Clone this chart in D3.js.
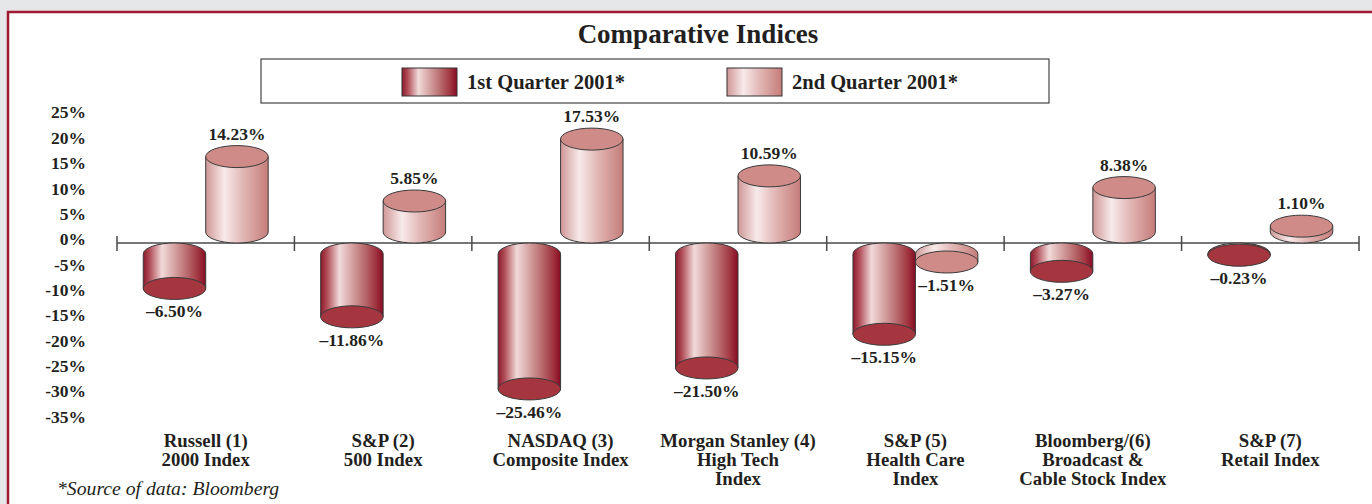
<!DOCTYPE html>
<html>
<head>
<meta charset="utf-8">
<script src="https://cdn.jsdelivr.net/npm/d3@7"></script>
<style>
  body { margin: 0; background: #e6e7e9; }
  svg { display: block; }
  text { font-family: "Liberation Serif", "Times New Roman", serif; font-weight: bold; fill: #231f20; }
</style>
</head>
<body>
<div id="chart"></div>
<script>
////// DATA ////////
var categories = ["Russell (1)", "S&P (2)", "NASDAQ (3)", "Morgan Stanley (4)", "S&P (5)", "Bloomberg/(6)", "S&P (7)"];
var categoryLines = [
  ["Russell (1)", "2000 Index"],
  ["S&P (2)", "500 Index"],
  ["NASDAQ (3)", "Composite Index"],
  ["Morgan Stanley (4)", "High Tech", "Index"],
  ["S&P (5)", "Health Care", "Index"],
  ["Bloomberg/(6)", "Broadcast &", "Cable Stock Index"],
  ["S&P (7)", "Retail Index"]
];
var series = ["1st Quarter 2001*", "2nd Quarter 2001*"];
var q1 = [-6.50, -11.86, -25.46, -21.50, -15.15, -3.27, -0.23];
var q2 = [14.23, 5.85, 17.53, 10.59, -1.51, 8.38, 1.10];
var tickValues = [25, 20, 15, 10, 5, 0, -5, -10, -15, -20, -25, -30, -35];
////////////////////

var w = 1372, h = 504;
var axisY = 243;
var ry = 11;

var svg = d3.select("#chart").append("svg")
  .attr("width", w)
  .attr("height", h);

// gradients for the cylinders
var defs = svg.append("defs");
var grads = [
  { id: "g1", stops: [[0, "#8c1a2d"], [0.1, "#b04b56"], [0.3, "#f1dad9"], [0.5, "#d5a2a2"], [0.72, "#b56568"], [0.88, "#a0343f"], [1, "#870b24"]] },
  { id: "g2", stops: [[0, "#cf9796"], [0.3, "#f8eaea"], [0.6, "#e1b6b4"], [1, "#c57c79"]] }
];
var capColours = ["#a5363f", "#cf8b87"];

grads.forEach(function (g) {
  var lg = defs.append("linearGradient").attr("id", g.id)
    .attr("x1", 0).attr("x2", 1).attr("y1", 0).attr("y2", 0);
  g.stops.forEach(function (s) {
    lg.append("stop").attr("offset", s[0]).attr("stop-color", s[1]);
  });
});

// frame
svg.append("rect")
  .attr("x", 8).attr("y", 12)
  .attr("width", w + 20).attr("height", h + 20)
  .attr("fill", "white")
  .attr("stroke", "#9e1a33")
  .attr("stroke-width", 2.5);

// title
svg.append("text")
  .attr("x", 698).attr("y", 43)
  .attr("text-anchor", "middle")
  .style("font-size", "27px")
  .text("Comparative Indices");

// legend
svg.append("rect")
  .attr("x", 261).attr("y", 59)
  .attr("width", 788).attr("height", 44)
  .attr("fill", "white")
  .attr("stroke", "#444")
  .attr("stroke-width", 1.2);

var legendX = [402, 727];
series.forEach(function (s, i) {
  svg.append("rect")
    .attr("x", legendX[i]).attr("y", 68)
    .attr("width", 55).attr("height", 28)
    .attr("fill", "url(#g" + (i + 1) + ")")
    .attr("stroke", "#333")
    .attr("stroke-width", 1);
  svg.append("text")
    .attr("x", legendX[i] + 65).attr("y", 89)
    .style("font-size", "20.5px")
    .text(s);
});

// scales
var x0 = d3.scaleBand()
  .domain(categories)
  .range([117, 1359])
  .padding(0);

var x1 = d3.scaleBand()
  .domain([0, 1])
  .range([0, x0.bandwidth()])
  .paddingInner(0)
  .paddingOuter(0.42);

var yTick = d3.scaleLinear()
  .domain([-35, 25])
  .range([416.7, 112.3]);

// bar length (the drawing is a bit stretched against the labels)
var len = d3.scaleLinear()
  .domain([0, 35])
  .range([0, 185.5]);

var rx = x1.bandwidth() / 2;

// y labels
svg.selectAll(".ytick")
  .data(tickValues)
  .enter()
  .append("text")
  .attr("class", "ytick")
  .attr("x", 86)
  .attr("y", function (d) { return yTick(d); })
  .attr("dy", "0.35em")
  .attr("text-anchor", "end")
  .style("font-size", "17.5px")
  .text(function (d) { return d + "%"; });

// zero line with ticks
svg.append("line")
  .attr("x1", x0.range()[0]).attr("x2", x0.range()[1])
  .attr("y1", axisY).attr("y2", axisY)
  .attr("stroke", "#4a4a4a")
  .attr("stroke-width", 1.5);

var tickXs = categories.map(function (c) { return x0(c); }).concat([x0.range()[1]]);
svg.selectAll(".xtick")
  .data(tickXs)
  .enter()
  .append("line")
  .attr("class", "xtick")
  .attr("x1", function (d) { return d; })
  .attr("x2", function (d) { return d; })
  .attr("y1", axisY - 7).attr("y2", axisY + 8)
  .attr("stroke", "#4a4a4a")
  .attr("stroke-width", 1.5);

// cylinders
var bars = [];
categories.forEach(function (c, i) {
  bars.push({ cat: c, s: 0, v: q1[i] });
  bars.push({ cat: c, s: 1, v: q2[i] });
});

function geom(d) {
  var cx = x0(d.cat) + x1(d.s) + rx;
  var hh = len(Math.abs(d.v));
  var top, bot;
  if (d.v >= 0) {
    bot = axisY - ry;
    top = bot - hh;
  } else {
    top = axisY + ry;
    bot = top + hh;
  }
  return { cx: cx, top: top, bot: bot };
}

function bodyPath(d) {
  var g = geom(d);
  var l = g.cx - rx, r = g.cx + rx;
  if (d.v >= 0) {
    return "M" + l + "," + g.top + "L" + l + "," + g.bot +
      "A" + rx + "," + ry + " 0 0 0 " + r + "," + g.bot +
      "L" + r + "," + g.top + "Z";
  }
  return "M" + l + "," + g.bot + "L" + l + "," + g.top +
    "A" + rx + "," + ry + " 0 0 1 " + r + "," + g.top +
    "L" + r + "," + g.bot + "Z";
}

var cyl = svg.selectAll(".cyl")
  .data(bars)
  .enter()
  .append("g")
  .attr("class", "cyl");

cyl.append("path")
  .attr("d", bodyPath)
  .attr("fill", function (d) { return "url(#g" + (d.s + 1) + ")"; })
  .attr("stroke", "#3a3a3a")
  .attr("stroke-width", 1);

cyl.append("ellipse")
  .attr("cx", function (d) { return geom(d).cx; })
  .attr("cy", function (d) { return d.v >= 0 ? geom(d).top : geom(d).bot; })
  .attr("rx", rx)
  .attr("ry", ry)
  .attr("fill", function (d) { return capColours[d.s]; })
  .attr("stroke", "#3a3a3a")
  .attr("stroke-width", 1);

// value labels
cyl.append("text")
  .attr("x", function (d) { return geom(d).cx; })
  .attr("y", function (d) {
    var g = geom(d);
    return d.v >= 0 ? g.top - ry - 6 : g.bot + ry + 18;
  })
  .attr("text-anchor", "middle")
  .style("font-size", "17.5px")
  .text(function (d) {
    return (d.v < 0 ? "\u2013" : "") + Math.abs(d.v).toFixed(2) + "%";
  });

// category labels
var cat = svg.selectAll(".cat")
  .data(categoryLines)
  .enter()
  .append("text")
  .attr("class", "cat")
  .attr("text-anchor", "middle")
  .style("font-size", "18.8px");

cat.selectAll("tspan")
  .data(function (d, i) { return d.map(function (t) { return { t: t, c: categories[i] }; }); })
  .enter()
  .append("tspan")
  .attr("x", function (d) { return x0(d.c) + x0.bandwidth() / 2; })
  .attr("y", function (d, j) { return 447 + j * 19; })
  .text(function (d) { return d.t; });

// source
svg.append("text")
  .attr("x", 57).attr("y", 495)
  .style("font-size", "19.7px")
  .style("font-style", "italic")
  .style("font-weight", "normal")
  .text("*Source of data: Bloomberg");
</script>
</body>
</html>
